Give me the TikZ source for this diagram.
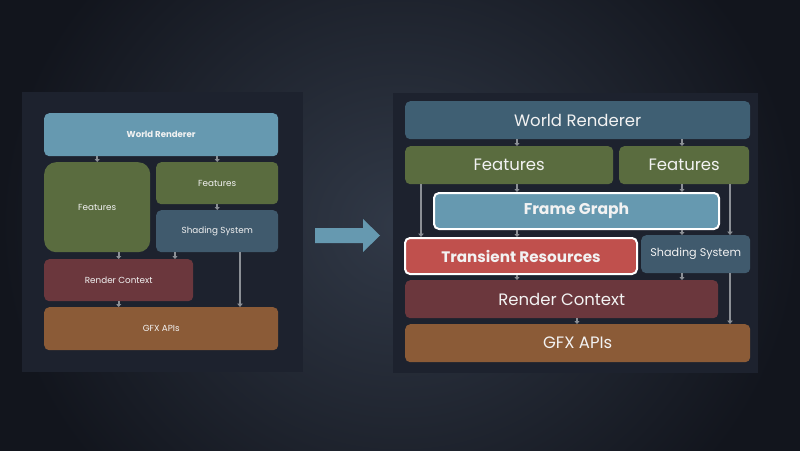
\documentclass[tikz,border=0pt]{standalone}
\usepackage{fontspec}
\setmainfont{Poppins}
\usetikzlibrary{arrows.meta,calc}
\definecolor{bgc}{HTML}{1B2030}
\definecolor{bgin}{HTML}{313947}
\definecolor{bgout}{HTML}{12151D}
\definecolor{panel}{HTML}{1D222E}
\definecolor{lblue}{HTML}{6699B0}
\definecolor{dblue}{HTML}{3F5F73}
\definecolor{green}{HTML}{5A6C3F}
\definecolor{shade}{HTML}{405A6D}
\definecolor{rctx}{HTML}{6B373D}
\definecolor{gfx}{HTML}{8B5B37}
\definecolor{trans}{HTML}{C0504D}
\definecolor{arrc}{HTML}{8C9096}
\definecolor{txt}{HTML}{F2F2F2}
\tikzset{
  box/.style={anchor=north west, inner sep=0pt, rounded corners=5pt, text=txt, align=center},
  arr/.style={draw=arrc, line width=1.8pt, -{Triangle[length=3pt,width=5pt]}},
  larr/.style={draw=arrc, line width=2.4pt, -{Triangle[length=3.5pt,width=5.5pt]}},
  sfont/.style={font=\fontsize{8.8}{10}\selectfont},
  bfont/.style={font=\fontsize{16.5}{18}\selectfont},
}
\begin{document}
\begin{tikzpicture}[x=1pt,y=-1pt]
\useasboundingbox (0,0) rectangle (800,450);
\fill[bgc] (0,0) rectangle (800,450);
\shade[inner color=bgin, outer color=bgout] (0,-150) rectangle (800,600);
% panels
\fill[panel] (22,92) rectangle (303,372);
\fill[panel] (393,93) rectangle (758,373);
% left diagram
\node[box, fill=lblue, minimum width=234pt, minimum height=43pt, font=\fontsize{8.6}{10}\selectfont\bfseries] (wrL) at (44,113) {World Renderer};
\node[box, fill=green, rounded corners=12pt, minimum width=106pt, minimum height=90pt, sfont] (flL) at (44,162) {Features};
\node[box, fill=green, minimum width=122pt, minimum height=42pt, sfont] (frL) at (156,162) {Features};
\node[box, fill=shade, minimum width=122pt, minimum height=42pt, sfont] (shL) at (156,210) {Shading System};
\node[box, fill=rctx, minimum width=149pt, minimum height=42pt, sfont] (rcL) at (44,259) {Render Context};
\node[box, fill=gfx, minimum width=234pt, minimum height=43pt, sfont] (gfL) at (44,307) {GFX APIs};
\coordinate (la) at ($(shL.south west)+(19,0)$);
\coordinate (lb) at ($(shL.south west)+(84,0)$);
\draw[arr] (flL.north |- wrL.south) -- (flL.north);
\draw[arr] (frL.north |- wrL.south) -- (frL.north);
\draw[arr] (frL.south) -- (shL.north);
\draw[arr] (rcL.north |- flL.south) -- (rcL.north);
\draw[arr] (la) -- (la |- rcL.north);
\draw[larr] (lb) -- (lb |- gfL.north);
\draw[arr] (rcL.south) -- (rcL.south |- gfL.north);
% middle arrow
\fill[lblue] (315,228) -- (363,228) -- (363,219) -- (380,235.5) -- (363,252) -- (363,243) -- (315,243) -- cycle;
% right diagram
\node[box, fill=dblue, minimum width=345pt, minimum height=38pt, bfont] (wr) at (405,101) {World Renderer};
\node[box, fill=green, minimum width=208pt, minimum height=38pt, bfont] (f1) at (405,146) {Features};
\node[box, fill=green, minimum width=130pt, minimum height=38pt, bfont] (f2) at (619,146) {Features};
\node[box, fill=lblue, draw=white, line width=2pt, minimum width=285pt, minimum height=36pt, font=\fontsize{15.6}{17}\selectfont\bfseries] (fg) at (433,192) {Frame Graph};
\node[box, fill=trans, draw=white, line width=2pt, minimum width=232pt, minimum height=36pt, font=\fontsize{15.2}{17}\selectfont\bfseries] (tr) at (404,237) {Transient Resources};
\node[box, fill=shade, minimum width=109pt, minimum height=38pt, font=\fontsize{11.2}{13}\selectfont] (sh) at (641,235) {Shading System};
\node[box, fill=rctx, minimum width=313pt, minimum height=38pt, bfont] (rc) at (405,280) {Render Context};
\node[box, fill=gfx, minimum width=345pt, minimum height=38pt, bfont] (gf) at (405,324) {GFX APIs};
\coordinate (xa) at (517,0);
\coordinate (xb) at (682,0);
\coordinate (xc) at (730,0);
\coordinate (xd) at (421,0);
\coordinate (xe) at (577,0);
\draw[arr] (xa |- wr.south) -- (xa |- f1.north);
\draw[arr] (xb |- wr.south) -- (xb |- f2.north);
\draw[arr] (xa |- f1.south) -- (xa |- fg.north);
\draw[arr] (xb |- f2.south) -- (xb |- fg.north);
\draw[larr] (xd |- f1.south) -- (xd |- tr.north);
\draw[larr] (xc |- f2.south) -- (xc |- sh.north);
\draw[arr] (xa |- fg.south) -- (xa |- tr.north);
\draw[arr] (xb |- fg.south) -- (xb |- sh.north);
\draw[arr] (xa |- tr.south) -- (xa |- rc.north);
\draw[arr] (xb |- sh.south) -- (xb |- rc.north);
\draw[arr] (xe |- rc.south) -- (xe |- gf.north);
\draw[larr] (xc |- sh.south) -- (xc |- gf.north);
\end{tikzpicture}
\end{document}
